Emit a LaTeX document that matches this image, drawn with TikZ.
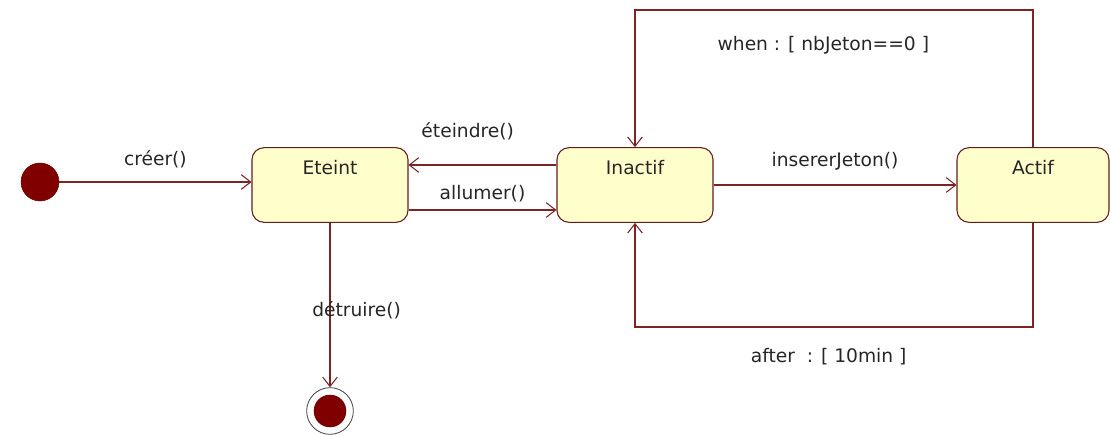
\documentclass[tikz,border=0pt]{standalone}
\usepackage{fontspec}
\setmainfont{DejaVu Sans}
\usetikzlibrary{arrows.meta}
\definecolor{lineRed}{RGB}{125,35,35}
\definecolor{stateFill}{RGB}{255,255,204}
\definecolor{dotRed}{RGB}{128,0,0}
\begin{document}
\begin{tikzpicture}[x=0.75pt, y=-0.75pt,
        every node/.style={font=\fontsize{14}{16}\selectfont, text=black!85},
        state/.style={rectangle, draw=lineRed!80!black, fill=stateFill, rounded corners=9pt, line width=0.8pt,
            minimum width=117pt, minimum height=56pt, text height=10pt, text depth=26pt},
        initial/.style={circle, draw=dotRed!80!black, fill=dotRed, minimum size=28.5pt, inner sep=0pt},
        final/.style={circle, draw=black!75, line width=0.6pt, minimum size=35pt, inner sep=0pt},
        trans/.style={-{Straight Barb[length=7pt, width=11pt]}, draw=lineRed, line width=0.8pt}
    ]
        \useasboundingbox (0,0) rectangle (1110,435);

        % States
        \node[initial] (init) at (40,182) {};
        \node[state] (eteint) at (330,185) {Eteint};
        \node[state] (inactif) at (635,185) {Inactif};
        \node[state, minimum width=114pt] (actif) at (1033,185) {Actif};
        \node[final] (final) at (330,411) {};
        \node[initial, minimum size=24pt] (finaldot) at (final) {};

        % Transitions
        \draw[trans] (init.east) -- node[above=7pt] {créer()} (init.east -| eteint.west);
        \draw[trans] ([yshift=-18.75pt]eteint.east) -- node[above=2pt] {allumer()} ([yshift=-18.75pt]inactif.west);
        \draw[trans] ([yshift=15pt]inactif.west) -- node[pos=0.6, above=15pt] {éteindre()} ([yshift=15pt]eteint.east);
        \draw[trans] (inactif) -- node[above=7pt] {insererJeton()} (actif);
        \draw[trans] (actif.north) -- (actif.north |- 0,10) -- node[below=16pt, xshift=-8pt] {when : [ nbJeton==0 ]} (inactif.north |- 0,10) -- (inactif.north);
        \draw[trans] (actif.south) -- (actif.south |- 0,327) -- node[below=12pt, xshift=-4pt] {after\ \ : [ 10min ]} (inactif.south |- 0,327) -- (inactif.south);
        \draw[trans] (eteint.south) -- node[pos=0.53, xshift=20pt] {détruire()} (final);
    \end{tikzpicture}
\end{document}
